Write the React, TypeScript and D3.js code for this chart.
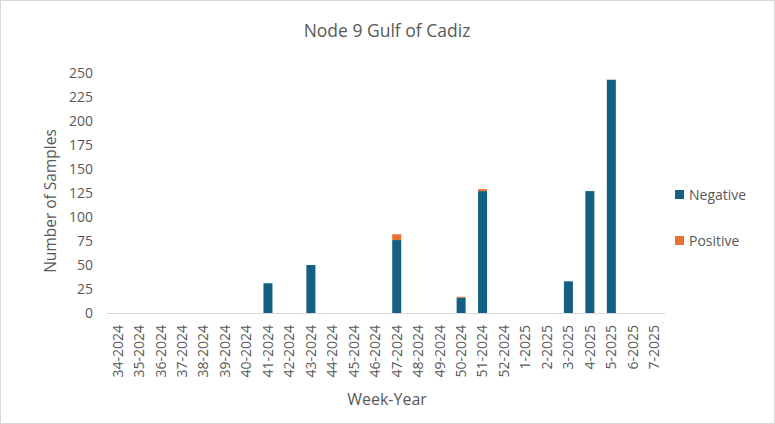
import React, { useEffect } from "react";
import * as d3 from "d3";

const categories = [
  "34-2024","35-2024","36-2024","37-2024","38-2024","39-2024","40-2024","41-2024","42-2024","43-2024",
  "44-2024","45-2024","46-2024","47-2024","48-2024","49-2024","50-2024","51-2024","52-2024",
  "1-2025","2-2025","3-2025","4-2025","5-2025","6-2025","7-2025",
];
const negative = [0,0,0,0,0,0,0,31,0,50,0,0,0,76,0,0,16,127,0,0,0,33,127,243,0,0];
const positive = [0,0,0,0,0,0,0,0,0,0,0,0,0,6,0,0,1,2,0,0,0,0,0,0,0,0];
const yTicks = [0,25,50,75,100,125,150,175,200,225,250];
const seriesNames = ["Negative","Positive"];
const colors = ["#156082","#E97132"];

const W = 775, H = 424;
const left = 107, right = 665, top = 73, bottom = 313;
const font = "'Open Sans', sans-serif";
const textColor = "#595959";

export default function App() {
  useEffect(() => { document.body.style.margin = "0"; }, []);
  const x = d3.scaleBand<string>().domain(categories).range([left, right]).paddingInner(0.58).paddingOuter(0.29);
  const y = d3.scaleLinear().domain([0, 250]).range([bottom, top]);
  return (
    <svg width={W} height={H} style={{ display: "block", position: "absolute", left: 0, top: 0 }} fontFamily={font}>
      <rect x={0.5} y={0.5} width={W - 1} height={H - 1} fill="#fff" stroke="#d9d9d9" />
      <text x={387} y={37} textAnchor="middle" fontSize={17.5} fill={textColor}>Node 9 Gulf of Cadiz</text>
      {yTicks.map((t) => (
        <text key={t} x={93} y={y(t)} dy="0.35em" textAnchor="end" fontSize={14} fill={textColor}>{t}</text>
      ))}
      {categories.map((c, i) => {
        const bx = x(c)!;
        const bw = x.bandwidth();
        return (
          <g key={c}>
            {negative[i] > 0 && (
              <rect x={bx} y={y(negative[i])} width={bw} height={y(0) - y(negative[i])} fill={colors[0]} />
            )}
            {positive[i] > 0 && (
              <rect x={bx} y={y(negative[i] + positive[i])} width={bw} height={y(negative[i]) - y(negative[i] + positive[i])} fill={colors[1]} />
            )}
          </g>
        );
      })}
      <line x1={left} x2={right} y1={bottom + 0.5} y2={bottom + 0.5} stroke="#d9d9d9" strokeWidth={1} />
      {categories.map((c) => {
        const cx = x(c)! + x.bandwidth() / 2;
        return (
          <text key={c} transform={`translate(${cx},${325}) rotate(-90)`} dy="0.35em" textAnchor="end" fontSize={14} fill={textColor}>{c}</text>
        );
      })}
      <text x={387} y={405} textAnchor="middle" fontSize={16} fill={textColor}>Week-Year</text>
      <text transform={`translate(51,${(top + bottom) / 2 + 8}) rotate(-90)`} textAnchor="middle" dy="0.35em" fontSize={15.5} fill={textColor}>Number of Samples</text>
      {seriesNames.map((s, i) => (
        <g key={s} transform={`translate(675,${195 + i * 46})`}>
          <rect x={0} y={-5} width={9} height={9} fill={colors[i]} />
          <text x={14} y={0} dy="0.35em" fontSize={14} fill={textColor}>{s}</text>
        </g>
      ))}
    </svg>
  );
}
